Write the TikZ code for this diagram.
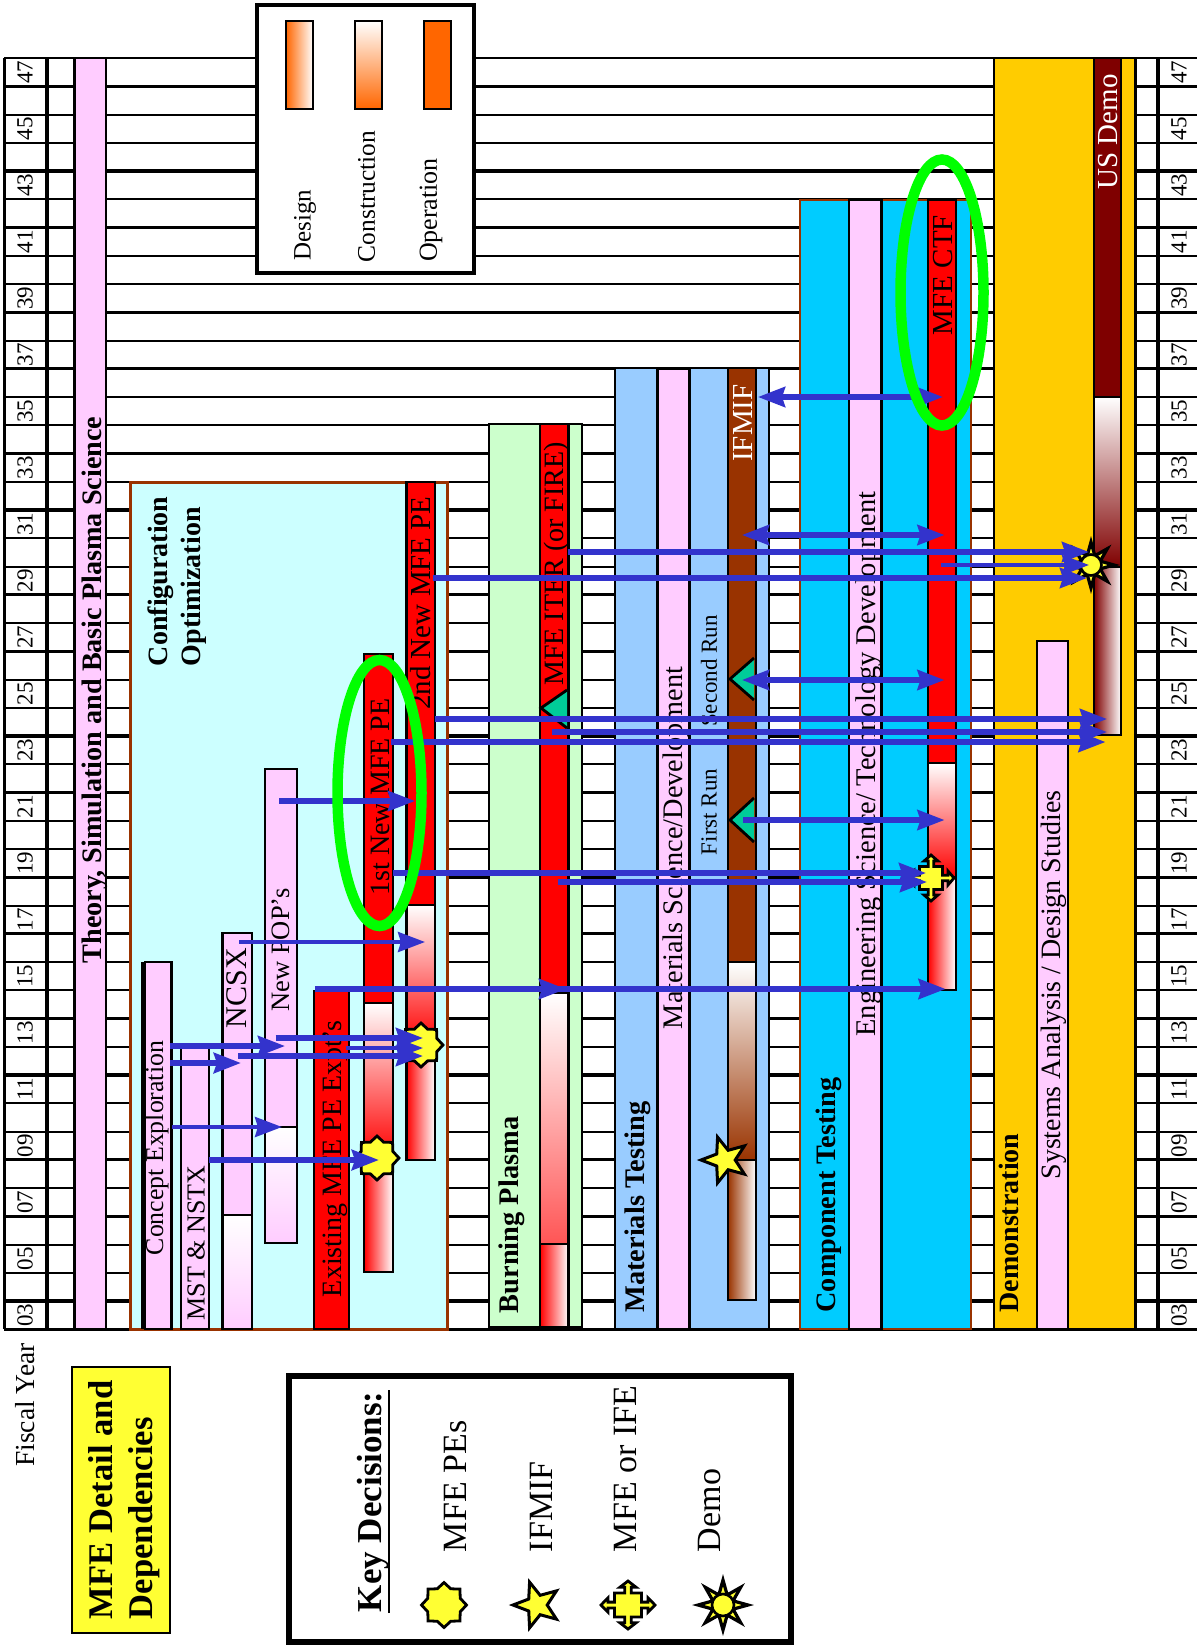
\documentclass[tikz,border=0pt]{standalone}
\usepackage{fontspec}
\setmainfont{Liberation Serif}
\usetikzlibrary{arrows.meta,shapes.geometric}
\definecolor{pinkc}{HTML}{FFCCFF}
\definecolor{cyanlt}{HTML}{CCFFFF}
\definecolor{greenlt}{HTML}{CCFFCC}
\definecolor{bluelt}{HTML}{99CCFF}
\definecolor{bluec}{HTML}{00CCFF}
\definecolor{goldc}{HTML}{FFCC00}
\definecolor{brownc}{HTML}{993300}
\definecolor{democ}{HTML}{7F0000}
\definecolor{arrowc}{HTML}{3333CC}
\definecolor{tealc}{HTML}{00CC99}
\definecolor{orangec}{HTML}{FF6600}
\definecolor{redsoft}{HTML}{FF5555}
\definecolor{yelc}{HTML}{FFFF33}
\definecolor{grn}{HTML}{00FF00}
\tikzset{
  bk/.style={draw=black,line width=2.8pt},
  vl/.style={draw=black,line width=2.2pt},
  thinrow/.style={draw=black,line width=2pt},
  thickrow/.style={draw=black,line width=3.4pt},
  lbl/.style={rotate=90,inner sep=0pt,outer sep=0pt,text=black},
  arr/.style={-{Stealth[length=27pt,width=20pt,inset=3pt]},draw=arrowc,line width=5.3pt},
  dbl/.style={{Stealth[length=27pt,width=20pt,inset=3pt]}-{Stealth[length=27pt,width=20pt,inset=3pt]},draw=arrowc,line width=5.3pt},
  narr/.style={arr,line width=4pt},
  warr/.style={arr,line width=6.4pt},
  halo/.style={draw=grn,line width=10.5pt},
  pestar/.style={star,star points=8,star point ratio=1.28,draw=black,line width=2.8pt,fill=yelc,inner sep=0pt,outer sep=0pt,minimum size=44pt},
  ifstar/.style={star,star points=5,star point ratio=2.35,shape border rotate=90,draw=black,line width=3pt,fill=yelc,inner sep=0pt,outer sep=0pt,minimum size=48pt},
  sunstar/.style={star,star points=8,star point ratio=2.3,draw=black,line width=3.2pt,fill=yelc,inner sep=0pt,outer sep=0pt,minimum size=50pt},
  sundisc/.style={circle,draw=black,line width=2.6pt,fill=yelc,inner sep=0pt,outer sep=0pt,minimum size=22pt},
}
% name, x, y, size, text
\newcommand{\lab}[5]{\node[lbl,font=\fontsize{#4pt}{#4pt}\selectfont] (#1) at (#2,#3) {#5};}
\newcommand{\labb}[5]{\node[lbl,font=\fontsize{#4pt}{#4pt}\selectfont\bfseries] (#1) at (#2,#3) {#5};}
\newcommand{\labw}[5]{\node[lbl,text=white,font=\fontsize{#4pt}{#4pt}\selectfont] (#1) at (#2,#3) {#5};}
% name, y, x1, x2, style
\newcommand{\harr}[5]{\coordinate (#1a) at (#3,#2);\coordinate (#1b) at (#4,#2);\draw[#5] (#1a) -- (#1b);}
\newcommand{\constr}[5]{\path[top color=white,bottom color=#5] (#1,#3) rectangle (#2,#4);\draw[bk] (#1,#3) rectangle (#2,#4);}
\newcommand{\desgn}[5]{\path[left color=#5,right color=white] (#1,#3) rectangle (#2,#4);\draw[bk] (#1,#3) rectangle (#2,#4);}
\newcommand{\crossmark}[4]{\draw[shift={(#1,#2)},xscale=#3,yscale=#4,draw=black,line width=2.8pt,fill=yelc,line join=miter]
 (1,0)--(.74,.3)--(.74,.12)--(.5,.12)--(.5,.5)--(.12,.5)--(.12,.74)--(.3,.74)--(0,1)--(-.3,.74)--(-.12,.74)--(-.12,.5)--(-.5,.5)--(-.5,.12)--(-.74,.12)--(-.74,.3)--(-1,0)--(-.74,-.3)--(-.74,-.12)--(-.5,-.12)--(-.5,-.5)--(-.12,-.5)--(-.12,-.74)--(-.3,-.74)--(0,-1)--(.3,-.74)--(.12,-.74)--(.12,-.5)--(.5,-.5)--(.5,-.12)--(.74,-.12)--(.74,-.3)--cycle;}
\begin{document}
\begin{tikzpicture}[x=1pt,y=-1pt]
\useasboundingbox (0,0) rectangle (1197,1650);
\fill[white] (0,0) rectangle (1197,1650);
% grid
\foreach \k in {0,2,3,5,7,8,10,12,13,15,17,18,20,22,23,25,27,28,30,32,33,35,37,38,40,42,43}
  \draw[thinrow] (4,{58+28.25*\k}) -- (1197,{58+28.25*\k});
\foreach \k in {1,4,6,9,11,14,16,19,21,24,26,29,31,34,36,39,41,44,45}
  \draw[thickrow] (4,{58+28.25*\k}) -- (1197,{58+28.25*\k});
\draw[vl] (4.5,58) -- (4.5,1329);
\draw[vl,line width=3.2pt] (47,58) -- (47,1329);
\draw[vl,line width=3.2pt] (1158,58) -- (1158,1329);
% year labels
\foreach \m/\yy in {0/47,1/45,2/43,3/41,4/39,5/37,6/35,7/33,8/31,9/29,10/27,11/25,12/23,13/21,14/19,15/17,16/15,17/13,18/11,19/09,20/07,21/05,22/03}{
  \node[lbl,font=\fontsize{23pt}{23pt}\selectfont] (yl\yy) at (25,{72+56.5*\m}) {\yy};
  \node[lbl,font=\fontsize{23pt}{23pt}\selectfont] (yr\yy) at (1179,{72+56.5*\m}) {\yy};
}
% theory
\draw[bk,fill=pinkc] (74.5,58) rectangle (106,1329);
% configuration box
\draw[draw=brownc,line width=3pt,fill=cyanlt] (130,482) rectangle (447,1329);
\draw[bk,fill=pinkc] (145,962) rectangle (171.5,1329);
\draw[vl,line width=3.5pt] (143,962) -- (143,1329);
\draw[bk,fill=pinkc] (181,1048) rectangle (209,1329);
\draw[bk,fill=pinkc] (222.5,933) rectangle (252,1215);
\constr{222.5}{252}{1215}{1329}{pinkc}
\draw[bk,fill=pinkc] (265,769) rectangle (297,1127);
\constr{265}{297}{1127}{1243}{pinkc}
\draw[bk,fill=red] (314,991) rectangle (349,1329);
\draw[bk,fill=red] (364,654) rectangle (393,1003);
\constr{364}{393}{1003}{1158}{red}
\desgn{364}{393}{1158}{1272}{red}
\draw[bk,fill=red] (406.5,482) rectangle (435,905);
\constr{406.5}{435}{905}{1045}{red}
\desgn{406.5}{435}{1045}{1160}{red}
% burning plasma
\draw[bk,fill=greenlt] (489,424) rectangle (582,1327.5);
\draw[bk,fill=red] (540,424) rectangle (568.5,993);
\constr{540}{568.5}{993}{1244}{redsoft}
\desgn{540}{568.5}{1244}{1327.5}{red}
\fill[tealc] (541,708) -- (567,690) -- (567,728) -- cycle;
\draw[bk] (567,690) -- (541,708) -- (567,728);
% materials testing
\draw[bk,fill=bluelt] (615,368) rectangle (769,1329);
\draw[bk,line width=3pt,fill=pinkc] (657,368) rectangle (689,1329);
\draw[bk,fill=brownc] (728,368) rectangle (756,962);
\constr{728}{756}{962}{1160}{brownc}
\desgn{728}{756}{1160}{1300}{brownc}
\fill[tealc] (730,820) -- (754,798) -- (754,842) -- cycle;
\draw[bk] (754,798) -- (730,820) -- (754,842);
\fill[tealc] (730,679) -- (754,658) -- (754,700) -- cycle;
\draw[bk] (754,658) -- (730,679) -- (754,700);
% component testing
\draw[draw=brownc,line width=2.4pt,fill=bluec] (800,200) rectangle (971,1329);
\draw[bk,fill=pinkc] (849,200) rectangle (881.5,1329);
\draw[bk,fill=red] (928,200) rectangle (956,763);
\constr{928}{956}{763}{877}{red}
\desgn{928}{956}{877}{990}{red}
% demonstration
\draw[draw=black,line width=1.6pt,fill=goldc] (994,58) rectangle (1135,1329);
\draw[vl,line width=3pt] (1135,58) -- (1135,1329);
\draw[bk,fill=pinkc] (1037,641) rectangle (1068,1329);
\draw[bk,fill=democ] (1094,58) rectangle (1121,397);
\constr{1094}{1121}{397}{567}{democ}
\desgn{1094}{1121}{567}{735}{democ}
% key legend (colours)
\draw[draw=black,line width=3.2pt,fill=white] (257,5) rectangle (474,273);
\path[left color=orangec,right color=white] (286,21) rectangle (313,109);
\draw[bk] (286,21) rectangle (313,109);
\path[top color=white,bottom color=orangec] (355,21) rectangle (382,109);
\draw[bk] (355,21) rectangle (382,109);
\draw[bk,fill=orangec] (424,21) rectangle (451,109);
\lab{lgd}{305}{225}{25}{Design}
\lab{lgc}{366.5}{196.5}{25.4}{Construction}
\lab{lgo}{431}{210}{26}{Operation}
% texts
\labb{ttheory}{95}{690}{28.2}{Theory, Simulation and Basic Plasma Science}
\node[lbl,anchor=west,font=\fontsize{28pt}{28pt}\selectfont\bfseries] (tconf) at (161,666) {Configuration};
\node[lbl,anchor=west,font=\fontsize{28pt}{28pt}\selectfont\bfseries] (topt) at (194,666) {Optimization};
\lab{tconc}{157}{1148}{25.8}{Concept Exploration}
\lab{tmst}{196}{1243}{26}{MST \& NSTX}
\lab{tncsx}{237}{988}{30}{NCSX}
\lab{tnew}{280.5}{950}{26.5}{New POP’s}
\lab{texist}{335}{1159}{28}{Existing MFE PE Expt’s}
\lab{t1st}{380}{797}{28}{1st New MFE PE}
\lab{t2nd}{421}{603}{29}{2nd New MFE PE}
\labb{tburn}{512}{1215}{28.4}{Burning Plasma}
\lab{titer}{557}{564}{28}{MFE ITER (or FIRE)}
\labb{tmat}{638}{1207}{28.4}{Materials Testing}
\lab{tmsd}{676}{848}{28.3}{Materials Science/Development}
\lab{tfirst}{709}{812}{23}{First Run}
\lab{tsecond}{709}{671}{23}{Second Run}
\labw{tif}{743}{423}{29}{IFMIF}
\labb{tcomp}{829}{1195}{28.2}{Component Testing}
\lab{teng}{869}{764}{28.5}{Engineering Science/ Technology Development}
\lab{tctf}{943.5}{275}{29}{MFE CTF}
\labb{tdem}{1009}{1223}{28}{Demonstration}
\lab{tsys}{1054}{985}{28}{Systems Analysis / Design Studies}
\labw{tus}{1108.5}{132}{29}{US Demo}
% decision symbols
\node[pestar] (s1) at (377,1158) {};
\node[pestar] (s2) at (421,1045) {};
\node[ifstar] (s3) at (725,1160) {};
\crossmark{931}{878}{23}{23}
\node[sunstar,minimum size=46pt] (s5) at (1091,565) {};
\node[sundisc,minimum size=21pt] (s6) at (1091,565) {};
% arrows
\harr{a}{397}{758}{943}{dbl}
\harr{b}{535}{742}{944.5}{dbl}
\harr{c}{552}{567.5}{1089}{arr}
\harr{d}{565}{941}{1089}{narr}
\harr{e}{578}{433}{1087}{arr}
\harr{f}{680}{742}{944.5}{dbl}
\harr{g}{719}{435}{1107}{arr}
\harr{h}{732}{552}{1107}{arr}
\harr{i}{742}{391}{1105.5}{arr}
\harr{j}{820}{743}{944.5}{arr}
\harr{k}{873}{393.4}{926}{arr}
\harr{l}{882}{557.6}{927}{arr}
\harr{m}{989}{315}{566}{arr}
\harr{n}{989}{315}{945.6}{arr}
\harr{o}{801}{279.4}{415}{arr}
\harr{p}{942}{239}{425}{narr}
\harr{q}{1038}{275.5}{423}{arr}
\harr{r}{1046}{170}{285}{arr}
\harr{s}{1048}{346}{423}{narr}
\harr{t}{1056}{238}{423}{arr}
\harr{u}{1063}{170}{241}{warr}
\harr{v}{1127}{172}{282}{narr}
\harr{w}{1160}{208.6}{379}{warr}
% ellipses
\draw[halo] (942,292.5) ellipse [x radius=41.5,y radius=133];
\draw[halo] (379.5,793) ellipse [x radius=42,y radius=133];
% lower left
\lab{tfy}{25.5}{1405}{27.5}{Fiscal Year}
\draw[draw=black,line width=2.8pt,fill=yelc] (72,1367) rectangle (170,1633);
\node[lbl,anchor=west,font=\fontsize{34.6pt}{34.6pt}\selectfont\bfseries] (ttl1) at (101,1619) {MFE Detail and};
\node[lbl,anchor=west,font=\fontsize{34.6pt}{34.6pt}\selectfont\bfseries] (ttl2) at (144,1619) {Dependencies};
\draw[draw=black,line width=6pt,fill=white] (289,1376) rectangle (791,1642);
\node[lbl,anchor=west,font=\fontsize{35pt}{35pt}\selectfont\bfseries] (tkey) at (373,1612) {Key Decisions:};
\coordinate (ula) at (389,1613);\coordinate (ulb) at (389,1390);
\draw[draw=black,line width=2.4pt] (ula) -- (ulb);
\node[lbl,anchor=west,font=\fontsize{34pt}{34pt}\selectfont] (tk1) at (456,1552) {MFE PEs};
\node[lbl,anchor=west,font=\fontsize{34pt}{34pt}\selectfont] (tk2) at (541,1552) {IFMIF};
\node[lbl,anchor=west,font=\fontsize{34pt}{34pt}\selectfont] (tk3) at (626,1552) {MFE or IFE};
\node[lbl,anchor=west,font=\fontsize{34pt}{34pt}\selectfont] (tk4) at (710,1552) {Demo};
\node[pestar,minimum size=45pt] (k1) at (444,1605) {};
\node[ifstar] (k2) at (537,1605) {};
\crossmark{628}{1605}{27}{24}
\node[sunstar] (k4) at (723,1605) {};
\node[sundisc] (k5) at (723,1605) {};
\end{tikzpicture}
\end{document}
